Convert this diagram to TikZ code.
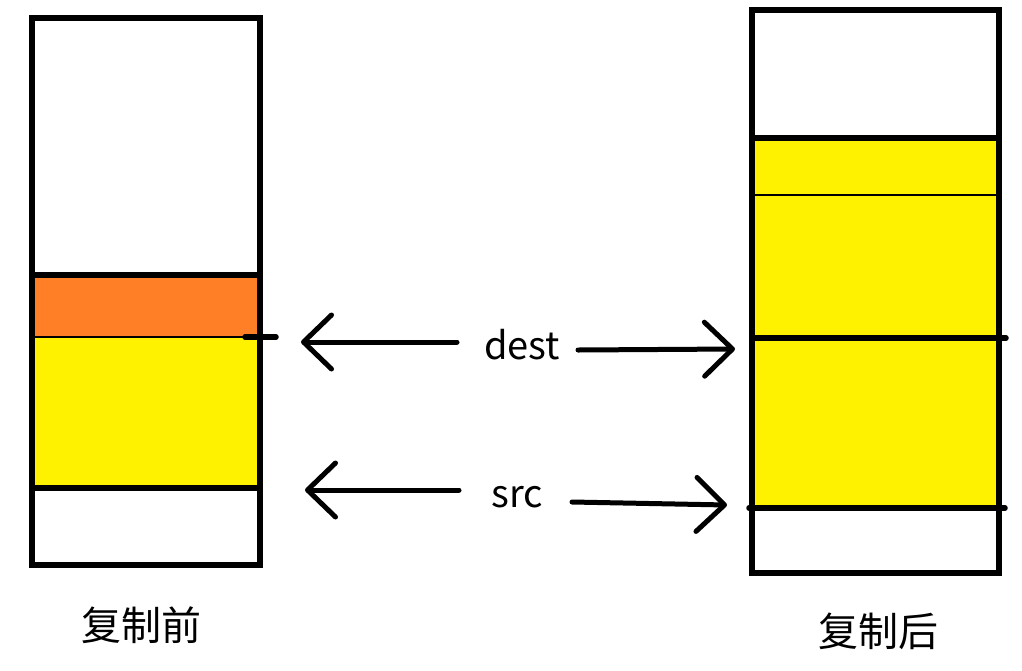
\documentclass[tikz,border=0pt]{standalone}
\usepackage{fontspec}
\setmainfont{Noto Sans CJK SC}
\usetikzlibrary{arrows.meta}
\definecolor{porange}{HTML}{FF7F27}
\definecolor{pyellow}{HTML}{FFF200}
\tikzset{
  thick line/.style={line width=5.5pt, line cap=round},
  thin line/.style={line width=1.3pt},
  boxline/.style={line width=6pt, line join=miter},
  ptr/.style={line width=5pt, line cap=round,
    -{Straight Barb[length=28pt,width=54pt,line width=5pt,round]}},
  lbl/.style={font=\fontsize{38}{40}\selectfont, inner sep=0pt},
  cjk/.style={font=\fontsize{40}{42}\selectfont, inner sep=0pt}
}
\begin{document}
\begin{tikzpicture}[x=1pt,y=-1pt]
\useasboundingbox (0,0) rectangle (1022,670);
\fill[white] (0,0) rectangle (1022,670);
% ---- left box (before copy)
\fill[porange] (32,275) rectangle (260,337);
\fill[pyellow] (32,337) rectangle (260,488);
\draw[thin line] (32,337) -- (245,337);
\draw[thick line] (245,337) -- (276,337);
\draw[boxline] (32,275) -- (260,275);
\draw[boxline] (32,488) -- (262,488);
\draw[boxline] (32,18) rectangle (260,565);
\coordinate (Ldest) at (301,342);
\coordinate (Lsrc) at (305,490);
% ---- right box (after copy)
\fill[pyellow] (752,138) rectangle (999,508);
\draw[thin line] (752,195) -- (999,195);
\draw[boxline] (749,138) -- (999,138);
\draw[thick line] (752,338) -- (1006,338);
\draw[thick line] (749,508) -- (1005,508);
\draw[boxline] (752,10) rectangle (999,573);
\coordinate (Rdest) at (735,349);
\coordinate (Rsrc) at (727,505);
% ---- labels
\node[lbl] (dest) at (522,345) {dest};
\node[lbl] (src) at (517,497) {src};
\node[cjk] (before) at (141,625) {复制前};
\node[cjk] (after) at (878,631) {复制后};
% ---- pointers
\coordinate (dl) at (457,342);
\coordinate (dr) at (578,350);
\coordinate (sl) at (459,490);
\coordinate (sr) at (572,502);
\draw[ptr] (dl) -- (Ldest);
\draw[ptr] (dr) -- (Rdest);
\draw[ptr] (sl) -- (Lsrc);
\draw[ptr] (sr) -- (Rsrc);
\end{tikzpicture}
\end{document}
